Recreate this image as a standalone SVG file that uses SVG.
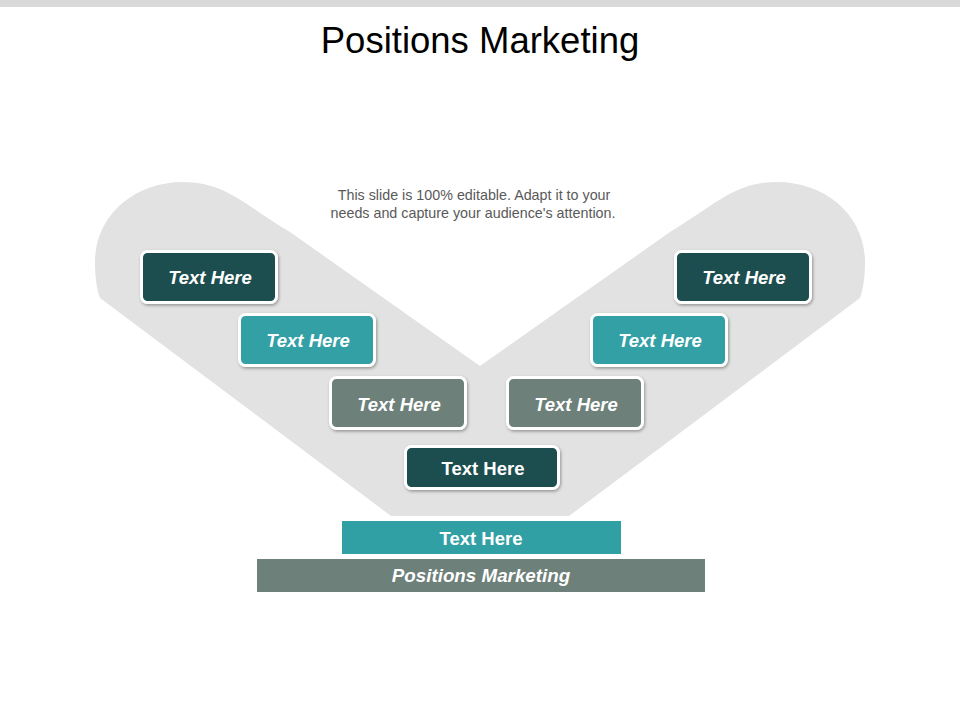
<svg xmlns="http://www.w3.org/2000/svg" width="960" height="720" viewBox="0 0 960 720">
  <defs>
    <filter id="sh" x="-10%" y="-10%" width="125%" height="135%">
      <feDropShadow dx="1" dy="1.5" stdDeviation="1.5" flood-color="#000" flood-opacity="0.35"/>
    </filter>
    <style>
      .box { stroke: #ffffff; stroke-width: 3; filter: url(#sh); }
      .dark { fill: #1b4e50; }
      .teal { fill: #31a0a5; }
      .gray { fill: #6d8079; }
      .lbl { font-family: "Liberation Sans", Arial, sans-serif; font-size: 18.5px; font-weight: bold; fill: #ffffff; text-anchor: middle; }
      .it { font-style: italic; }
      .title { font-family: "Liberation Sans", Arial, sans-serif; font-size: 36.5px; fill: #000000; text-anchor: middle; }
      .sub { font-family: "Liberation Sans", Arial, sans-serif; font-size: 14.3px; fill: #595959; text-anchor: middle; }
    </style>
  </defs>
  <rect width="960" height="720" fill="#ffffff"/>
  <rect x="0" y="0" width="960" height="7" fill="#d9d9d9"/>
  <text class="title" x="480" y="53">Positions Marketing</text>
  <text class="sub" x="474" y="200">This slide is 100% editable. Adapt it to your</text>
  <text class="sub" x="473" y="218">needs and capture your audience's attention.</text>

  <g id="band">
    <path fill="#e2e2e2" d="M 100 298 L 391 516 L 569 516 L 860 298 C 863 290 865 278 865 262 C 865 215 825 182 777 182 C 735 182 715 205 670 232 L 480 366 L 290 232 C 245 205 225 182 183 182 C 135 182 95 215 95 262 C 95 278 97 290 100 298 Z"/>
  </g>

  <g id="connectors"></g>

  <g id="node-l1">
    <rect class="box dark" x="141.5" y="251.5" width="135" height="51" rx="6"/>
    <text class="lbl it" x="210" y="284">Text Here</text>
  </g>
  <g id="node-l2">
    <rect class="box teal" x="239.5" y="314.5" width="135" height="51" rx="6"/>
    <text class="lbl it" x="308" y="347">Text Here</text>
  </g>
  <g id="node-l3">
    <rect class="box gray" x="330.5" y="377.5" width="135" height="51" rx="6"/>
    <text class="lbl it" x="399" y="410.5">Text Here</text>
  </g>
  <g id="node-r1">
    <rect class="box dark" x="675.5" y="251.5" width="135" height="51" rx="6"/>
    <text class="lbl it" x="744" y="284">Text Here</text>
  </g>
  <g id="node-r2">
    <rect class="box teal" x="591.5" y="314.5" width="135" height="51" rx="6"/>
    <text class="lbl it" x="660" y="347">Text Here</text>
  </g>
  <g id="node-r3">
    <rect class="box gray" x="507.5" y="377.5" width="135" height="51" rx="6"/>
    <text class="lbl it" x="576" y="410.5">Text Here</text>
  </g>
  <g id="node-center">
    <rect class="box dark" x="405.5" y="446.5" width="153" height="42" rx="6"/>
    <text class="lbl" x="483" y="475">Text Here</text>
  </g>
  <g id="bar-teal">
    <rect class="teal" x="342" y="521" width="279" height="33"/>
    <text class="lbl" x="481" y="545">Text Here</text>
  </g>
  <g id="bar-gray">
    <rect class="gray" x="257" y="559" width="448" height="33"/>
    <text class="lbl it" x="481" y="582" style="font-size:18.8px">Positions Marketing</text>
  </g>
</svg>
